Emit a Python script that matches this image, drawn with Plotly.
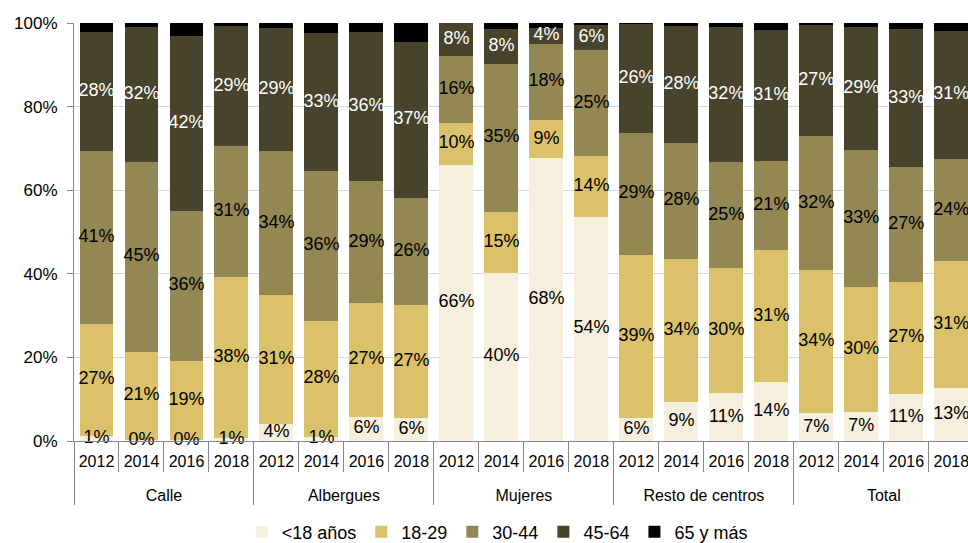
import plotly.graph_objects as go

groups = ["Calle", "Albergues", "Mujeres", "Resto de centros", "Total"]
years = ["2012", "2014", "2016", "2018"]

series_names = ["<18 años", "18-29", "30-44", "45-64", "65 y más"]

u18 = [1.3, 0.2, 0.2, 0.8, 4.1, 1.0, 5.8, 5.6, 66.1, 40.3, 67.7, 53.7,
       5.6, 9.3, 11.4, 14.2, 6.6, 6.9, 11.2, 12.6]
a18_29 = [26.7, 21.2, 19.0, 38.4, 30.9, 27.8, 27.2, 27.0, 10.0, 14.6, 9.1, 14.4,
          38.8, 34.3, 30.0, 31.4, 34.2, 30.0, 26.9, 30.5]
a30_44 = [41.4, 45.3, 35.9, 31.3, 34.3, 35.8, 29.2, 25.6, 16.1, 35.4, 18.2, 25.4,
          29.4, 27.7, 25.3, 21.4, 32.1, 32.8, 27.4, 24.3]
a45_64 = [28.4, 32.4, 41.9, 28.7, 29.4, 33.0, 35.6, 37.2, 7.8, 8.3, 3.9, 6.2,
          26.0, 28.1, 32.4, 31.4, 26.6, 29.3, 33.1, 30.8]
a65 = [2.2, 0.9, 3.0, 0.8, 1.3, 2.4, 2.2, 4.6, 0.0, 1.4, 1.1, 0.3,
       0.2, 0.6, 0.9, 1.6, 0.5, 1.0, 1.4, 1.8]

y_ticks = [0, 20, 40, 60, 80, 100]
y_ticktext = ["0%", "20%", "40%", "60%", "80%", "100%"]

colors = ["#F6EFDD", "#DBC169", "#938853", "#48432C", "#000000"]
label_colors = ["black", "black", "black", "white", None]

series = [u18, a18_29, a30_44, a45_64, a65]

# group labels get a leading line break so they sit lower, as in the reference
group_labels = ["<br>" + g for g in groups]
xg = [g for g in group_labels for _ in years]
xy = [y for _ in groups for y in years]
x = [xg, xy]

FONT = "Liberation Sans, Arial, sans-serif"

fig = go.Figure()
for name, vals, col in zip(series_names, series, colors):
    fig.add_trace(go.Bar(
        x=x, y=vals, name=name, marker=dict(color=col, line=dict(width=0)),
        hoverinfo="skip",
    ))

# labels on top of all bars
base = [0.0] * len(u18)
for vals, lc in zip(series, label_colors):
    mids = [b + v / 2 for b, v in zip(base, vals)]
    if lc is not None:
        fig.add_trace(go.Scatter(
            x=x, y=mids, mode="text",
            text=[f"{int(v + 0.5)}%" for v in vals],
            textposition="middle center",
            textfont=dict(family=FONT, size=18, color=lc),
            showlegend=False, hoverinfo="skip", cliponaxis=False,
        ))
    base = [b + v for b, v in zip(base, vals)]

fig.update_layout(
    width=968, height=543,
    barmode="stack", bargap=0.245,
    paper_bgcolor="white", plot_bgcolor="white",
    margin=dict(l=74, r=0, t=23, b=102, autoexpand=False),
    font=dict(family=FONT, size=17, color="black"),
    legend=dict(
        orientation="h", x=0.4734, xanchor="center",
        yref="container", y=0.0203, yanchor="middle",
        font=dict(family=FONT, size=18, color="black"),
        itemwidth=30, traceorder="normal",
    ),
    showlegend=True,
)

fig.update_yaxes(
    range=[0, 100], tickvals=y_ticks, ticktext=y_ticktext,
    showgrid=True, gridcolor="#D9D9D9", gridwidth=1,
    showline=True, linecolor="#868686", linewidth=1,
    ticks="outside", ticklen=6, tickcolor="#868686",
    tickfont=dict(family=FONT, size=17, color="black"),
    ticklabelstandoff=6, zeroline=False,
)
fig.update_xaxes(
    type="multicategory", range=[-0.5, 19.37],
    showline=True, linecolor="#868686", linewidth=1,
    ticks="outside", tickson="boundaries", ticklen=30, tickcolor="#868686",
    showdividers=True, dividercolor="#868686", dividerwidth=1,
    tickfont=dict(family=FONT, size=16, color="black"),
    ticklabelstandoff=6,
    showgrid=False,
)

fig.write_html(
    "out.html",
    config={"displayModeBar": False},
    post_script="document.body.style.margin='0';document.body.style.overflow='hidden';",
)
